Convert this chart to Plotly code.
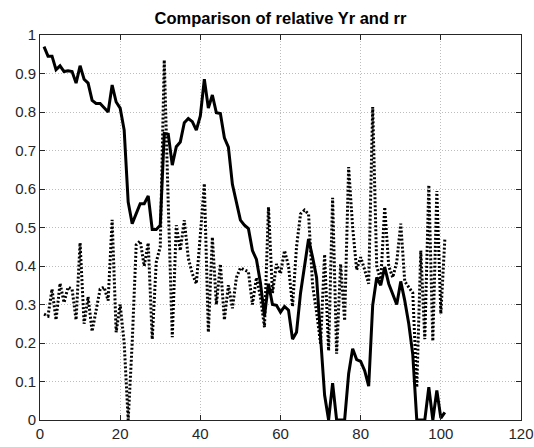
import plotly.graph_objects as go

# sample index
x_idx = list(range(1, 102))

# relative Yr (solid)
yr_rel = [
    0.970, 0.945, 0.945, 0.910, 0.920, 0.905, 0.907, 0.905, 0.875, 0.920,
    0.885, 0.875, 0.830, 0.822, 0.822, 0.812, 0.800, 0.870, 0.826, 0.810,
    0.753, 0.566, 0.510, 0.536, 0.562, 0.562, 0.582, 0.495, 0.495, 0.506,
    0.744, 0.742, 0.662, 0.710, 0.722, 0.772, 0.783, 0.775, 0.753, 0.790,
    0.885, 0.810, 0.844, 0.798, 0.796, 0.733, 0.709, 0.612, 0.564, 0.519,
    0.506, 0.497, 0.440, 0.417, 0.356, 0.270, 0.354, 0.300, 0.298, 0.280,
    0.295, 0.285, 0.210, 0.228, 0.330, 0.405, 0.470, 0.423, 0.370, 0.215,
    0.065, 0.000, 0.096, 0.000, 0.000, 0.000, 0.120, 0.185, 0.157, 0.152,
    0.128, 0.088, 0.298, 0.370, 0.350, 0.397, 0.354, 0.325, 0.300, 0.360,
    0.310, 0.250, 0.170, 0.000, 0.000, 0.000, 0.085, 0.000, 0.077, 0.005,
    0.020,
]

# relative rr (dotted)
rr_rel = [
    0.275, 0.270, 0.340, 0.260, 0.355, 0.305, 0.345, 0.340, 0.260, 0.460,
    0.250, 0.320, 0.230, 0.290, 0.340, 0.345, 0.310, 0.520, 0.228, 0.300,
    0.200, 0.000, 0.200, 0.455, 0.465, 0.400, 0.460, 0.210, 0.410, 0.450,
    0.935, 0.560, 0.215, 0.506, 0.440, 0.519, 0.420, 0.380, 0.354, 0.480,
    0.614, 0.228, 0.475, 0.300, 0.405, 0.260, 0.350, 0.290, 0.370, 0.395,
    0.390, 0.385, 0.300, 0.370, 0.320, 0.241, 0.553, 0.330, 0.405, 0.380,
    0.440, 0.400, 0.295, 0.450, 0.535, 0.545, 0.535, 0.350, 0.280, 0.198,
    0.430, 0.180, 0.577, 0.172, 0.405, 0.258, 0.657, 0.500, 0.390, 0.423,
    0.390, 0.354, 0.813, 0.400, 0.360, 0.553, 0.400, 0.370, 0.410, 0.510,
    0.360, 0.345, 0.330, 0.085, 0.440, 0.210, 0.610, 0.205, 0.595, 0.276,
    0.470,
]

x_ticks = [0, 20, 40, 60, 80, 100, 120]
y_ticks = [0, 0.1, 0.2, 0.3, 0.4, 0.5, 0.6, 0.7, 0.8, 0.9, 1]
y_tick_text = ["0", "0.1", "0.2", "0.3", "0.4", "0.5", "0.6", "0.7", "0.8", "0.9", "1"]

FONT = "Liberation Sans, Arial, sans-serif"

fig = go.Figure()
fig.add_trace(go.Scatter(
    x=x_idx, y=yr_rel, mode="lines",
    line=dict(color="black", width=3),
    showlegend=False,
))
fig.add_trace(go.Scatter(
    x=x_idx, y=rr_rel, mode="lines",
    line=dict(color="black", width=3, dash="2px,2px"),
    showlegend=False,
))

axis_common = dict(
    showline=True, linecolor="#262626", linewidth=1, mirror="ticks",
    ticks="inside", ticklen=5, tickcolor="#262626", tickwidth=1,
    showgrid=True, gridcolor="#bdbdbd", gridwidth=1, griddash="1px,2px",
    zeroline=False, automargin=False,
    tickfont=dict(family=FONT, size=15, color="#262626"),
)

fig.update_xaxes(range=[0, 120], tickvals=x_ticks, **axis_common)
fig.update_yaxes(range=[0, 1], tickvals=y_ticks, ticktext=y_tick_text, **axis_common)

fig.update_layout(
    width=534, height=447,
    margin=dict(l=40, r=13, t=35, b=27, autoexpand=False),
    paper_bgcolor="white", plot_bgcolor="white",
    title=dict(
        text="<b>Comparison of relative Yr and rr</b>",
        x=(40 + 521) / 2 / 534, xanchor="center",
        y=1 - 18 / 447, yanchor="middle",
        font=dict(family=FONT, size=16.5, color="black"),
    ),
)

fig.write_html("out.html")
